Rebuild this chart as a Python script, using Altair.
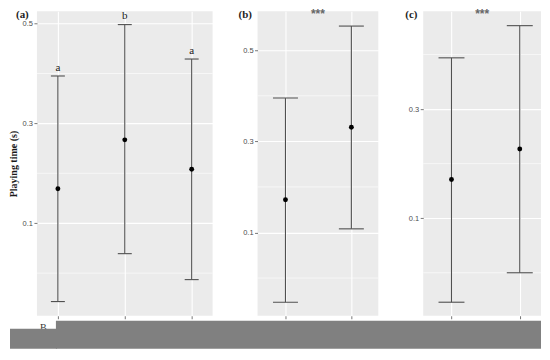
import altair as alt
import pandas as pd

# ---------------- data ----------------
# Panel (a)
a_group = [1, 2, 3]
a_mean = [0.169, 0.267, 0.208]
a_low = [-0.057, 0.039, -0.013]
a_high = [0.395, 0.498, 0.429]
a_letter = ["a", "b", "a"]
# Panel (b)
b_group = [1, 2]
b_mean = [0.172, 0.331]
b_low = [-0.053, 0.108]
b_high = [0.395, 0.553]
# Panel (c)
c_group = [1, 2]
c_mean = [0.171, 0.227]
c_low = [-0.054, 0.000]
c_high = [0.394, 0.453]

panel_labels = ["(a)", "(b)", "(c)"]
sig_label = "***"
y_title = "Playing time (s)"
a_yticks = [0.1, 0.3, 0.5]
b_yticks = [0.1, 0.3, 0.5]
c_yticks = [0.1, 0.3]
minor_ticks = [0.0, 0.2, 0.4]
hidden_label = ["B"]

# ---------------- styling ----------------
LINE = "#505050"
TICKC = "#555555"
SANS = "Liberation Sans"
SERIF = "Liberation Serif"
H = 305


def panel(groups, mean, low, high, xdom, ydom, yticks, w, cap, label, label_x,
          stars=True, letters=None, ytitle=None, extra=None):
    df = pd.DataFrame({"g": groups, "mean": mean, "low": low, "high": high})
    if letters is not None:
        df["letter"] = letters
    xs = alt.Scale(domain=xdom, nice=False, zero=False)
    ys = alt.Scale(domain=ydom, nice=False, zero=False)
    xax = alt.Axis(values=groups, labels=False, title=None, domain=False,
                   ticks=True, tickSize=3, tickColor=TICKC, tickWidth=0.8,
                   grid=True, gridColor="white", gridWidth=1.1)
    yax = alt.Axis(values=yticks, format=".1f", title=ytitle, domain=False,
                   ticks=True, tickSize=3, tickColor=TICKC, tickWidth=0.8,
                   labelFont=SANS, labelFontSize=7.5, labelColor="#4d4d4d",
                   labelPadding=1.5, grid=True, gridColor="white", gridWidth=1.1,
                   titleFont=SERIF, titleFontSize=10, titleFontWeight="bold",
                   titleColor="#1a1a1a", titlePadding=4)
    X = alt.X("g:Q", scale=xs, axis=xax)

    minor = alt.Chart(pd.DataFrame({"v": minor_ticks})).mark_rule(
        color="white", strokeWidth=0.6
    ).encode(y=alt.Y("v:Q", scale=ys, axis=yax))

    base = alt.Chart(df)
    bars = base.mark_rule(color=LINE, strokeWidth=1.1).encode(
        x=X, y=alt.Y("low:Q", scale=ys, axis=yax), y2="high:Q")
    cap_lo = base.mark_tick(orient="horizontal", size=cap, thickness=1.1,
                            color=LINE, opacity=1).encode(
        x=X, y=alt.Y("low:Q", scale=ys, axis=yax))
    cap_hi = base.mark_tick(orient="horizontal", size=cap, thickness=1.1,
                            color=LINE, opacity=1).encode(
        x=X, y=alt.Y("high:Q", scale=ys, axis=yax))
    pts = base.mark_point(filled=True, size=24, color="black", opacity=1).encode(
        x=X, y=alt.Y("mean:Q", scale=ys, axis=yax))
    layers = [minor, bars, cap_lo, cap_hi, pts]

    if letters is not None:
        lt = base.mark_text(font=SERIF, fontSize=11, color="#1a1a1a",
                            baseline="alphabetic", dy=-5.5).encode(
            x=X, y=alt.Y("high:Q", scale=ys, axis=yax), text="letter:N")
        layers.append(lt)

    lab = alt.Chart(pd.DataFrame({"t": [label]})).mark_text(
        font=SERIF, fontSize=11, fontWeight="bold", color="#222222",
        align="left", baseline="top").encode(
        text="t:N", x=alt.value(label_x), y=alt.value(-2))
    layers.append(lab)

    if stars:
        st = alt.Chart(pd.DataFrame({"t": [sig_label]})).mark_text(
            font=SANS, fontSize=12, fontWeight="bold", color="#666666",
            align="center", baseline="top").encode(
            text="t:N", x=alt.value(w / 2), y=alt.value(-2))
        layers.append(st)

    if extra is not None:
        layers.extend(extra)

    return alt.layer(*layers).properties(width=w, height=H)


# partially hidden text in lower-left corner
hid = alt.Chart(pd.DataFrame({"t": hidden_label})).mark_text(
    font=SERIF, fontSize=10, color="#333333", align="left", baseline="top"
).encode(text="t:N", x=alt.value(3), y=alt.value(312))

# grey band covering the bottom (drawn last, in the last panel)
band_main = alt.Chart(pd.DataFrame({"k": [0]})).mark_rect(color="#808080").encode(
    x=alt.value(-368), x2=alt.value(118), y=alt.value(310), y2=alt.value(338))
band_left = alt.Chart(pd.DataFrame({"k": [0]})).mark_rect(color="#808080").encode(
    x=alt.value(-414), x2=alt.value(-367), y=alt.value(318), y2=alt.value(338))

pa = panel(a_group, a_mean, a_low, a_high, [0.687, 3.313], [-0.0854, 0.5246],
           a_yticks, 176, 14, panel_labels[0], -21, stars=False,
           letters=a_letter, ytitle=y_title, extra=[hid])
pb = panel(b_group, b_mean, b_low, b_high, [0.576, 2.409], [-0.0827, 0.5854],
           b_yticks, 121, 25, panel_labels[1], -19)
pc = panel(c_group, c_mean, c_low, c_high, [0.586, 2.311], [-0.0788, 0.4793],
           c_yticks, 118, 26, panel_labels[2], -18,
           extra=[band_main, band_left])

chart = alt.hconcat(pa, pb, pc, spacing=45, bounds="flush").properties(
    padding=0
).configure_view(fill="#EBEBEB", stroke=None)

chart.save("out.html", embed_options={"renderer": "svg", "actions": False})
